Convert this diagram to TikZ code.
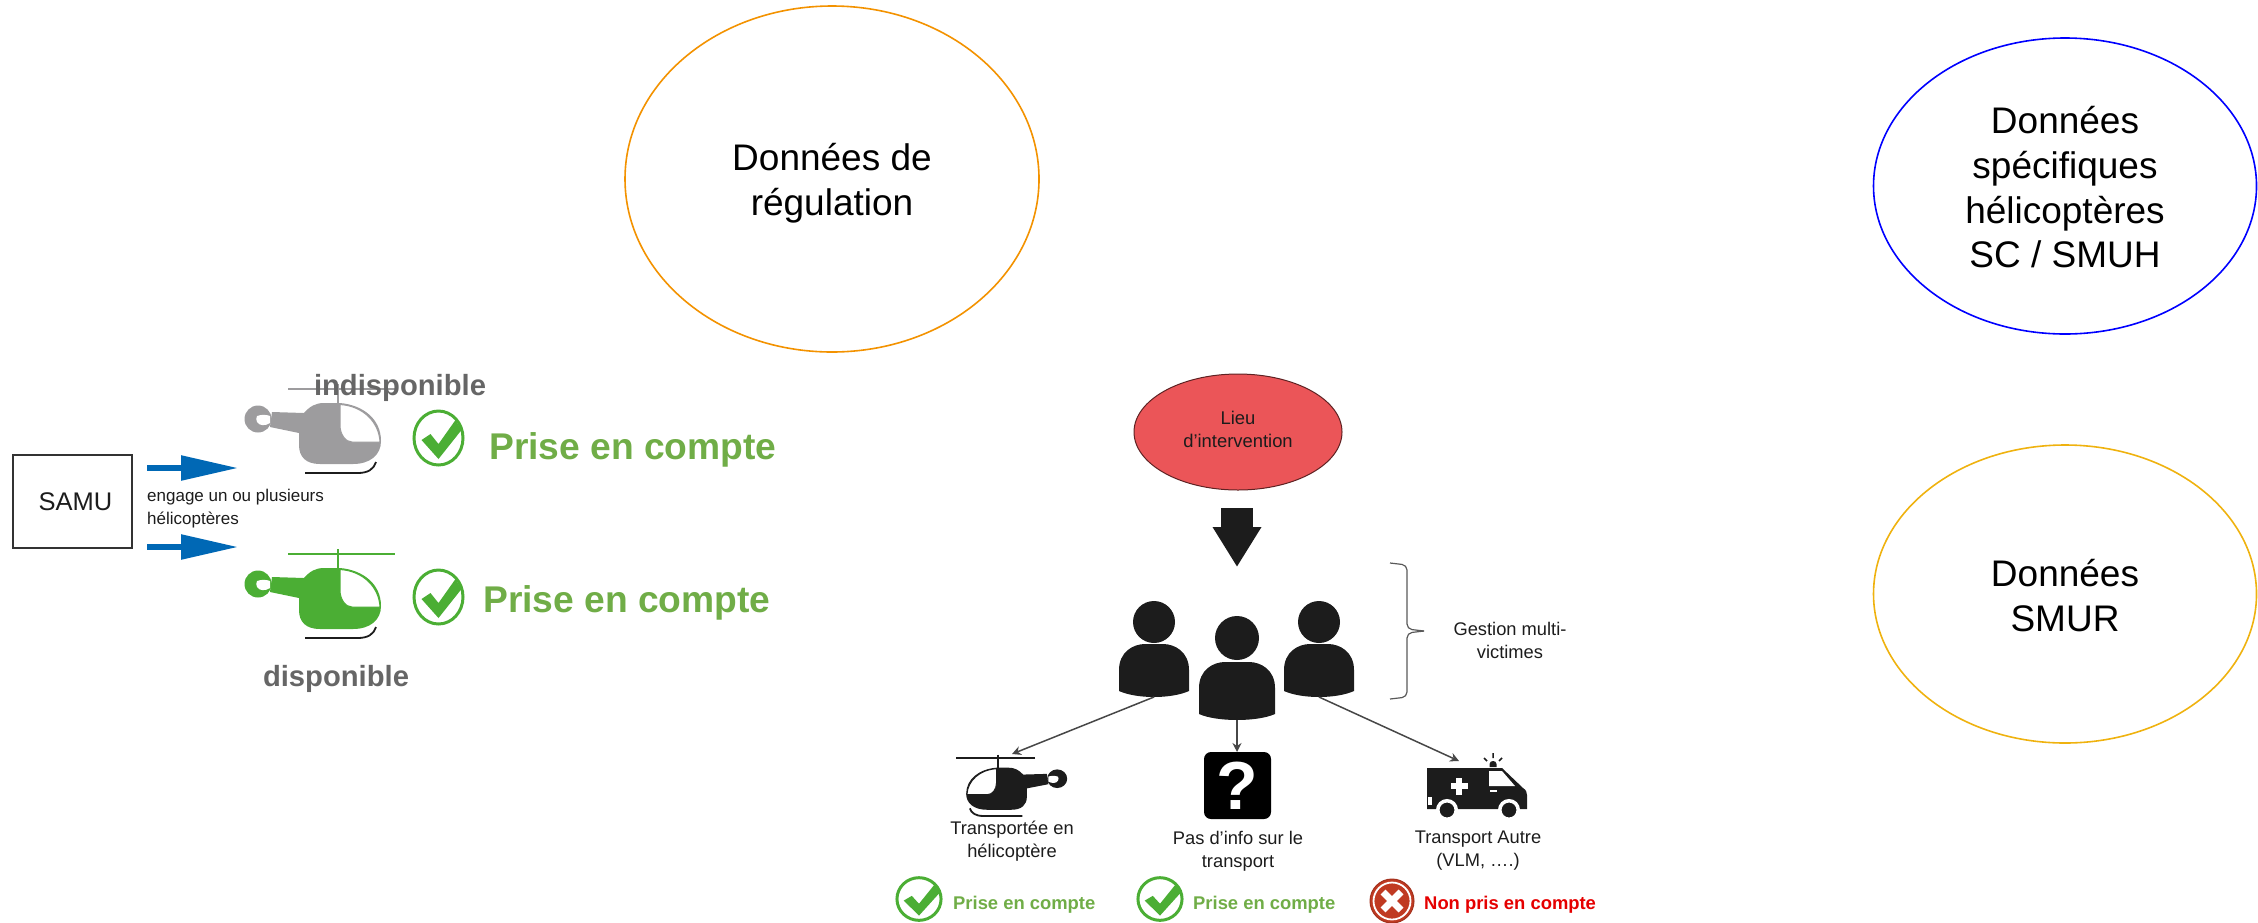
\documentclass[tikz,border=0pt]{standalone}
\usepackage{fontspec}
\setmainfont{Liberation Sans}
\usetikzlibrary{shapes.geometric,arrows.meta}
\definecolor{okgreen}{HTML}{4BAE34}
\definecolor{oktext}{HTML}{70AD47}
\definecolor{greyheli}{HTML}{9D9C9E}
\definecolor{labelgrey}{HTML}{666666}
\definecolor{samublue}{HTML}{0068B5}
\definecolor{ink}{HTML}{1C1C1C}
\definecolor{lieufill}{HTML}{EB5558}
\definecolor{xred}{HTML}{C03A22}
\definecolor{regorange}{HTML}{F39200}
\definecolor{smuryellow}{HTML}{EFB20F}
\tikzset{
  bubble/.style={draw,ellipse,inner sep=0pt,line width=1.6pt,align=center,font=\fontsize{37}{44.7}\selectfont},
  small/.style={inner sep=0pt,align=center,text=ink,font=\fontsize{18.3}{23}\selectfont},
  bigok/.style={inner sep=0pt,text=oktext,font=\fontsize{37.2}{44}\selectfont\bfseries},
  smallok/.style={inner sep=0pt,text=oktext,font=\fontsize{18.4}{22}\selectfont\bfseries},
  state/.style={inner sep=0pt,text=labelgrey,font=\fontsize{29.2}{34}\selectfont\bfseries},
  thinarrow/.style={draw=black!72,line width=1.5pt,-{Stealth[length=9pt,width=9pt]}},
  bluearrow/.style={draw=samublue,line width=5.5pt,-{Triangle[length=57pt,width=24pt]}}
}
% helicopter, local origin where the mast crosses the rotor bar
\newcommand{\heli}[2]{%
  \draw[#1,line width=2pt] (-50,0) -- (57,0);
  \draw[#1,line width=1.6pt] (0,-5) -- (0,16);
  \fill[#1] (-34,24) .. controls (-28,17) and (-22,14) .. (-14,14) -- (2,14)
    .. controls (25,16) and (43,30) .. (43,52) .. controls (43,66) and (32,75) .. (15,75)
    -- (-18,75) .. controls (-32,75) and (-39,68) .. (-39,56) -- (-39,44)
    -- (-68,38) -- (-66,23) -- cycle;
  \fill[#1] (-80,30) circle[radius=13.5];
  \fill[#2] (-81,27) .. controls (-76,25) and (-70,26) .. (-68,27) -- (-68,34)
    .. controls (-72,37) and (-79,37) .. (-81,33) .. controls (-82,31) and (-82,29) .. (-81,27) -- cycle;
  \filldraw[fill=#2,draw=#1,line width=1pt] (2,15.5) -- (2,36) .. controls (2,46) and (8,53) .. (14,53)
    -- (42,53) .. controls (41,33) and (25,17) .. (2,15.5) -- cycle;
  \draw[ink,line width=1.8pt] (-33,84) -- (20,84) .. controls (30,84) and (36,80) .. (38,73);
}
% green check in a ring
\newcommand{\okring}{%
  \filldraw[fill=white,draw=okgreen,line width=3pt] (0,0) ellipse[x radius=24.5,y radius=27];
  \fill[okgreen] (-17,2) -- (-8,-4) -- (0,6) -- (17,-18) -- (23,-8) -- (0,21) -- cycle;
}
\newcommand{\person}[7]{% name, cx, head cy, head r, half width, body top, body bottom
  \fill[ink] (#2,#3) circle[radius=#4];
  \fill[ink] ({#2-#5},{#7-6}) -- ({#2-#5},{#6+26}) .. controls ({#2-#5},{#6+8}) and ({#2-#5+14},#6) .. ({#2-#5+26},#6)
    -- ({#2+#5-26},#6) .. controls ({#2+#5-14},#6) and ({#2+#5},{#6+8}) .. ({#2+#5},{#6+26})
    -- ({#2+#5},{#7-6}) .. controls ({#2+#5-18},{#7+2}) and ({#2-#5+18},{#7+2}) .. ({#2-#5},{#7-6}) -- cycle;
  \coordinate (#1) at (#2,#7);
}
\begin{document}
\begin{tikzpicture}[x=1pt,y=-1pt]
\useasboundingbox (0,0) rectangle (2258,922);
% large bubbles
\node[bubble,draw=regorange,minimum width=414pt,minimum height=346pt] (reg) at (832,179) {\rule{0pt}{35.5pt}Données de\\régulation};
\node[bubble,draw=blue,minimum width=383pt,minimum height=296pt] (heliData) at (2065,186) {\rule{0pt}{30pt}Données\\spécifiques\\hélicoptères\\SC / SMUH};
\node[bubble,draw=smuryellow,minimum width=383pt,minimum height=298pt] (smur) at (2065,594) {\rule{0pt}{30.5pt}Données\\SMUR};
% SAMU
\node[draw=black!80,line width=1.3pt,minimum width=119pt,minimum height=93pt,inner sep=0pt,text=ink,font=\fontsize{25.5}{30}\selectfont] (samu) at (72.5,501.5) {\hspace*{6pt}SAMU};
\coordinate (a1s) at (147,468); \coordinate (a1e) at (238,468);
\coordinate (a2s) at (147,547); \coordinate (a2e) at (238,547);
\draw[bluearrow] (a1s) -- (a1e);
\draw[bluearrow] (a2s) -- (a2e);
\node[small,anchor=west,align=left,font=\fontsize{17}{23}\selectfont] (eng) at (147,509) {engage un ou plusieurs\\hélicoptères};
% helicopters
\begin{scope}[shift={(338,389)}] \heli{greyheli}{white} \end{scope}
\begin{scope}[shift={(338,554)}] \heli{okgreen}{white} \end{scope}
\node[state] (indispo) at (400,388) {indisponible};
\node[state] (dispo) at (336,679) {disponible};
\begin{scope}[shift={(438.5,438)}] \okring \end{scope}
\begin{scope}[shift={(438.5,597)}] \okring \end{scope}
\node[bigok,anchor=west] (pc1) at (489,450) {Prise en compte};
\node[bigok,anchor=west] (pc2) at (483,603) {Prise en compte};
% lieu
\node[draw=black!60!lieufill,fill=lieufill,line width=1pt,ellipse,minimum width=208pt,minimum height=116pt,inner sep=0pt,align=center,text=ink,font=\fontsize{18.4}{23}\selectfont] (lieu) at (1238,432) {Lieu\\d’intervention\rule[-5pt]{0pt}{0pt}};
\coordinate (fatS) at (1237,508); \coordinate (fatE) at (1237,567);
\draw[ink,line width=32pt,-{Triangle[length=40pt,width=46pt]}] (fatS) -- (fatE);
% persons
\person{pL}{1154}{622}{21}{35}{644}{697}
\person{pR}{1319}{622}{21}{35}{644}{697}
\person{pC}{1237}{638}{22}{38}{662}{720}
% brace
\draw[black!65,line width=1.2pt,rounded corners=5pt] (1390,563) -- (1407,565) -- (1407,629) -- (1424,631);
\draw[black!65,line width=1.2pt,rounded corners=5pt] (1424,631) -- (1407,633) -- (1407,697) -- (1390,699);
\node[small] (gest) at (1510,640.5) {Gestion multi-\\victimes};
% targets
\coordinate (tH) at (1012,754);
\coordinate (tQ) at (1237,752);
\coordinate (tA) at (1459,761);
\draw[thinarrow] (pL) -- (tH);
\draw[thinarrow] (pC) -- (tQ);
\draw[thinarrow] (pR) -- (tA);
% black helicopter
\begin{scope}[shift={(998,758)},xscale=-0.74,yscale=0.69] \heli{ink}{white} \end{scope}
% question box
\node[fill=black,rounded corners=7pt,minimum width=67pt,minimum height=67pt,inner sep=0pt,text=white,font=\fontsize{68}{70}\selectfont\bfseries] (ques) at (1237.5,785.5) {?};
% ambulance
\fill[ink] (1427,768) -- (1502,768) -- (1523,788) .. controls (1526,790) and (1527,792) .. (1527,795) -- (1527,809) -- (1427,809) -- cycle;
\fill[white] (1489,771) -- (1502,771) -- (1515,786) -- (1489,786) -- cycle;
\fill[white] (1456,777.5) rectangle (1462,794.5);
\fill[white] (1450.5,783) rectangle (1467.5,789);
\fill[white] (1490,790) rectangle (1497,791.5);
\fill[white] (1428,797) rectangle (1432,805);
\filldraw[fill=ink,draw=white,line width=3.5pt] (1447,810) circle[radius=9.25];
\filldraw[fill=ink,draw=white,line width=3.5pt] (1509,810) circle[radius=9.25];
\fill[ink] (1489.5,767) -- (1489.5,764) .. controls (1489.5,760) and (1496.5,760) .. (1496.5,764) -- (1496.5,767) -- cycle;
\draw[ink,line width=1.5pt] (1493,753) -- (1493,758) (1484,758) -- (1487,761) (1502,758) -- (1499,761);
% labels
\node[small] (l1) at (1012,841.5) {Transportée en\\hélicoptère};
\node[small] (l2) at (1238,851) {Pas d’info sur le\\transport};
\node[small] (l3) at (1478,851) {Transport Autre\\(VLM, ….)};
% bottom statuses
\begin{scope}[shift={(919,899)},xscale=0.9,yscale=0.79] \okring \end{scope}
\begin{scope}[shift={(1160,899)},xscale=0.9,yscale=0.79] \okring \end{scope}
\filldraw[fill=xred,draw=xred!85!black,line width=1pt] (1392,901) circle[radius=22];
\draw[white,line width=1.8pt] (1392,901) circle[radius=18.5];
\draw[white,line width=7pt] (1383,892) -- (1401,910) (1401,892) -- (1383,910);
\node[smallok,anchor=west] (b1) at (953,904.5) {Prise en compte};
\node[smallok,anchor=west] (b2) at (1193,904.5) {Prise en compte};
\node[smallok,anchor=west,text=red!90!black] (b3) at (1424,904.5) {Non pris en compte};
\end{tikzpicture}
\end{document}
